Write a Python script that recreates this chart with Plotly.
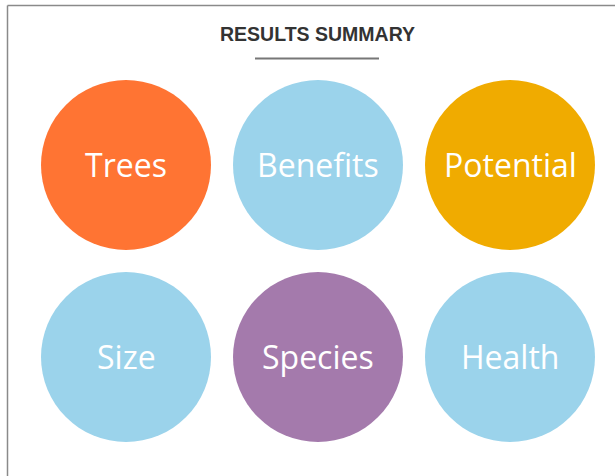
import plotly.graph_objects as go

# Data
labels = ["Trees", "Benefits", "Potential", "Size", "Species", "Health"]
cols = [0, 1, 2, 0, 1, 2]
rows = [0, 0, 0, 1, 1, 1]
colors = ["#FF7433", "#9BD3EB", "#F0AB00", "#9BD3EB", "#A47AAC", "#9BD3EB"]
title_text = "RESULTS SUMMARY"

W, H = 615, 476
# grid geometry in pixels
x0, y0, step = 126, 165, 192

fig = go.Figure()
fig.add_trace(go.Scatter(
    x=cols, y=rows, mode="markers",
    marker=dict(size=170, color=colors, line=dict(width=0), opacity=1),
    hoverinfo="skip", showlegend=False, cliponaxis=False,
))
for c, r, lab in zip(cols, rows, labels):
    fig.add_annotation(
        x=c, y=r, xref="x", yref="y", text=lab, showarrow=False,
        xanchor="center", yanchor="middle", yshift=1,
        font=dict(family="Open Sans, Liberation Sans, Arial, sans-serif", size=32, color="white"),
    )

fig.update_xaxes(range=[-x0 / step, (W - x0) / step], visible=False, fixedrange=True)
fig.update_yaxes(range=[(H - y0) / step, -y0 / step], visible=False, fixedrange=True)

fig.add_annotation(
    text="<b>" + title_text + "</b>", xref="paper", yref="paper",
    x=317 / W, y=1 - 34.5 / H, xanchor="center", yanchor="middle", showarrow=False,
    font=dict(family="Liberation Sans, Arial, sans-serif", size=19.5, color="#333333"),
)
# underline
fig.add_shape(type="line", xref="paper", yref="paper",
              x0=255 / W, x1=379 / W, y0=1 - 58.5 / H, y1=1 - 58.5 / H,
              line=dict(color="#777777", width=2))
# border (left and top)
fig.add_shape(type="line", xref="paper", yref="paper",
              x0=7.5 / W, x1=7.5 / W, y0=0, y1=1 - 5.5 / H,
              line=dict(color="#8a8a8a", width=1.5))
fig.add_shape(type="line", xref="paper", yref="paper",
              x0=7.5 / W, x1=1, y0=1 - 5.5 / H, y1=1 - 5.5 / H,
              line=dict(color="#8a8a8a", width=1.5))

fig.update_layout(
    width=W, height=H, margin=dict(l=0, r=0, t=0, b=0),
    paper_bgcolor="white", plot_bgcolor="white",
)
fig.write_html("out.html", config={"displayModeBar": False},
               post_script="document.body.style.margin='0';")
